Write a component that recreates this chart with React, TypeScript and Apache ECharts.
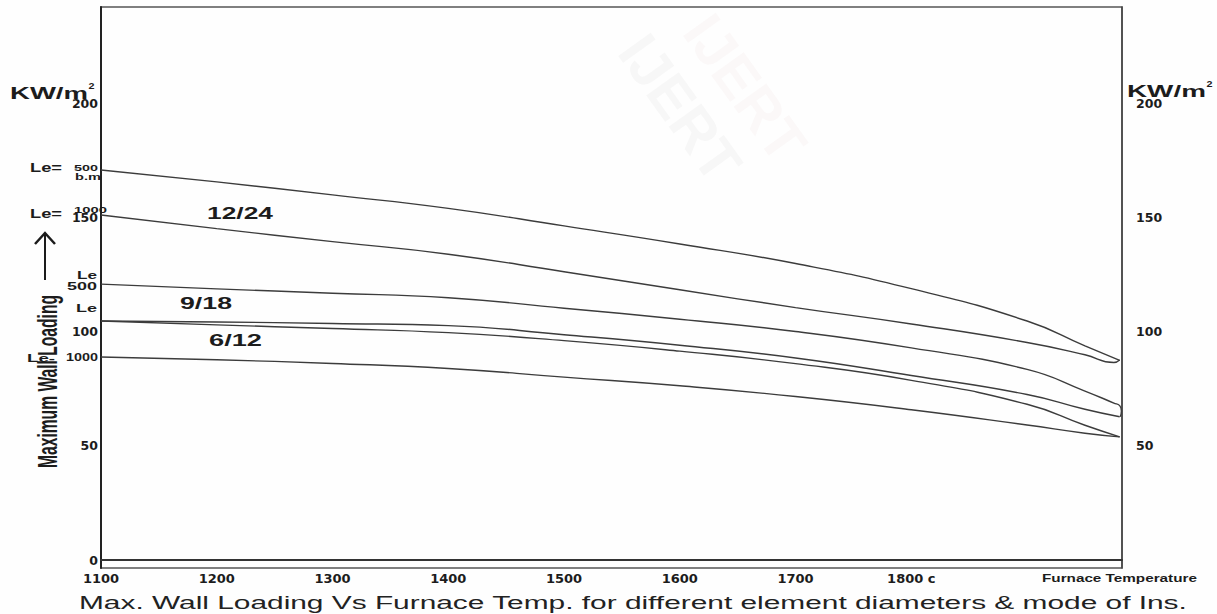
import React, { useEffect, useRef } from "react";
import * as echarts from "echarts";

// ---- data ----
const xTicks = [1100, 1200, 1300, 1400, 1500, 1600, 1700, 1800];
const yTicksLeft = [0, 50, 100, 150, 200];
const yTicksRight = [50, 100, 150, 200];

// Le=500 b.m (12/24, upper)
const curveA: number[][] = [
  [1100, 171.0], [1200, 165.8], [1300, 160.1], [1400, 154.2], [1500, 146.5], [1600, 138.6],
  [1700, 130.0], [1800, 119.0], [1900, 104.8], [1950, 93.9], [1980, 87.5],
];
// Le=1000 (12/24, lower) with the small hook up to the upper curve
const curveB: number[][] = [
  [1100, 151.3], [1200, 145.3], [1300, 139.6], [1400, 134.1], [1500, 126.4], [1600, 118.5],
  [1700, 110.7], [1800, 103.5], [1900, 95.4], [1950, 90.0], [1975, 86.6], [1980, 87.7],
];
// Le 500 (9/18, upper)
const curveC: number[][] = [
  [1100, 121.0], [1200, 118.9], [1300, 117.0], [1400, 115.0], [1500, 110.4], [1600, 105.6],
  [1700, 100.2], [1800, 93.0], [1900, 83.6], [1950, 74.1], [1975, 68.8], [1980, 67.7],
  [1981.5, 65.3], [1980.5, 62.8],
];
// Le 100 (9/18, lower)
const curveD1: number[][] = [
  [1100, 104.8], [1200, 104.4], [1300, 103.7], [1400, 102.8], [1500, 98.8], [1600, 94.2],
  [1700, 88.6], [1800, 80.9], [1900, 72.6], [1950, 66.1], [1980, 62.8],
];
// Le 100 (6/12, upper)
const curveD2: number[][] = [
  [1100, 104.8], [1200, 103.1], [1300, 101.5], [1400, 99.7], [1500, 96.2], [1600, 91.6],
  [1700, 86.1], [1800, 78.8], [1900, 68.3], [1950, 59.1], [1980, 54.0],
];
// Le-1000 (6/12, lower)
const curveE: number[][] = [
  [1100, 89.0], [1200, 87.8], [1300, 86.2], [1400, 84.0], [1500, 80.2], [1600, 76.4],
  [1700, 71.7], [1800, 65.9], [1900, 59.2], [1950, 55.6], [1980, 54.0],
];

const seriesNames = ["Le=500 b.m", "Le=1000", "Le 500", "Le 100 (9/18)", "Le 100 (6/12)", "Le-1000"];
const seriesData = [curveA, curveB, curveC, curveD1, curveD2, curveE];

const FAMILY = '"Liberation Sans", Arial, sans-serif';
const INK = "#1c1c1c";

function fitText(
  ctx: CanvasRenderingContext2D,
  text: string,
  left: number,
  right: number,
  cy: number,
  size: number,
  weight: string = "bold",
  color: string = INK
): any {
  ctx.font = `${weight} ${size}px ${FAMILY}`;
  const w = ctx.measureText(text).width || 1;
  return {
    type: "text",
    x: left,
    y: cy,
    scaleX: (right - left) / w,
    silent: true,
    z: 10,
    style: {
      text,
      fontSize: size,
      fontWeight: weight,
      fontFamily: FAMILY,
      fill: color,
      textAlign: "left",
      textVerticalAlign: "middle",
      verticalAlign: "middle",
    },
  };
}

export default function App() {
  const ref = useRef<HTMLDivElement>(null);

  useEffect(() => {
    if (!ref.current) return;
    const chart = echarts.init(ref.current, undefined, { renderer: "svg" });
    const canvas = document.createElement("canvas");
    const ctx = canvas.getContext("2d") as CanvasRenderingContext2D;

    const vSize = 27;
    ctx.font = `bold ${vSize}px ${FAMILY}`;
    const vW = ctx.measureText("Maximum Wall Loading").width || 1;

    const wm = (x: number, y: number, fill: string) => ({
      type: "text", x, y, rotation: -0.95, silent: true, z: 0,
      style: {
        text: "IJERT", fontSize: 58, fontWeight: "bold", fontFamily: FAMILY, fill,
        textAlign: "center", textVerticalAlign: "middle", verticalAlign: "middle",
      },
    });

    const graphics: any[] = [
      wm(680, 108, "rgba(150,150,150,0.07)"),
      wm(745, 88, "rgba(200,160,160,0.06)"),
      // left side
      fitText(ctx, "KW/m", 10, 88, 93, 17),
      fitText(ctx, "2", 88.5, 94.5, 86, 9),
      fitText(ctx, "Le=", 30, 62, 168, 12),
      fitText(ctx, "500", 74, 98, 167.5, 9.5),
      fitText(ctx, "b.m", 75, 101, 177, 9.5),
      fitText(ctx, "Le=", 30, 62, 214, 12),
      fitText(ctx, "1000", 74, 107, 209.5, 9.5),
      fitText(ctx, "Le", 77, 97, 275.5, 10.5),
      fitText(ctx, "500", 67, 97, 286.5, 10),
      fitText(ctx, "Le", 76, 97, 308, 10.5),
      fitText(ctx, "Le-", 27, 55, 358, 10.5),
      fitText(ctx, "1000", 66, 98, 358, 10.5),
      // right side
      fitText(ctx, "KW/m", 1127, 1206, 91, 17),
      fitText(ctx, "2", 1206.5, 1212.5, 84, 9),
      // curve labels
      fitText(ctx, "12/24", 207, 273, 213, 16),
      fitText(ctx, "9/18", 180, 232, 304, 16),
      fitText(ctx, "6/12", 209, 262, 341, 16),
      // bottom
      fitText(ctx, "Furnace Temperature", 1042, 1197, 578, 11),
      fitText(ctx, "Max. Wall Loading Vs Furnace Temp. for different element diameters & mode of Ins.", 79, 1188, 603, 18.5, "normal", "#222"),
      // vertical axis title
      {
        type: "text", x: 48, y: 381.5, rotation: Math.PI / 2, scaleX: 173 / vW, silent: true, z: 10,
        style: { text: "Maximum Wall Loading", fontSize: vSize, fontWeight: "bold", fontFamily: FAMILY, fill: INK, textAlign: "center", textVerticalAlign: "middle", verticalAlign: "middle" },
      },
      // arrow
      { type: "line", silent: true, z: 10, shape: { x1: 45, y1: 234, x2: 45, y2: 280 }, style: { stroke: INK, lineWidth: 2 } },
      { type: "polyline", silent: true, z: 10, shape: { points: [[35, 244], [45, 233], [55, 244]] }, style: { stroke: INK, lineWidth: 2.5, fill: null } },
    ];

    const yLabelStyle = {
      fontFamily: '"DejaVu Sans", sans-serif',
      fontWeight: "bold" as const,
      fontSize: 12.5,
      color: INK,
    };

    chart.setOption({
      animation: false,
      backgroundColor: "#fefefe",
      grid: {
        left: 101, right: 95, top: 7, bottom: 46,
        show: true, borderColor: "#555", borderWidth: 1.5, backgroundColor: "transparent",
      },
      xAxis: {
        type: "value",
        min: 1100,
        max: 1982,
        axisLine: { show: true, lineStyle: { color: "#333", width: 2 } },
        axisTick: { show: false },
        splitLine: { show: false },
        axisLabel: {
          customValues: xTicks,
          formatter: (v: number) => (v === 1800 ? "1800 c" : String(v)),
          fontFamily: '"DejaVu Sans", sans-serif',
          fontWeight: "bold",
          fontSize: 13,
          color: INK,
          margin: 4,
        },
      },
      yAxis: [
        {
          type: "value",
          position: "left",
          min: -3.5,
          max: 242.5,
          axisLine: { show: true, lineStyle: { color: "#222", width: 2 } },
          axisTick: { show: false },
          splitLine: { show: false },
          axisLabel: { ...yLabelStyle, customValues: yTicksLeft, margin: 3 },
        },
        {
          type: "value",
          position: "right",
          min: -3.5,
          max: 242.5,
          axisLine: { show: true, lineStyle: { color: "#444", width: 1.5 } },
          axisTick: { show: false },
          splitLine: { show: false },
          axisLabel: { ...yLabelStyle, customValues: yTicksRight, margin: 14 },
        },
      ],
      series: seriesData.map((d, i) => ({
        name: seriesNames[i],
        type: "line",
        data: d,
        smooth: 0.5,
        showSymbol: false,
        silent: true,
        lineStyle: { color: "#3c3c3c", width: 1.4 },
      })),
      graphic: graphics,
    });

    return () => chart.dispose();
  }, []);

  return (
    <div
      ref={ref}
      style={{ position: "fixed", left: 0, top: 0, width: 1217, height: 614 }}
    />
  );
}
